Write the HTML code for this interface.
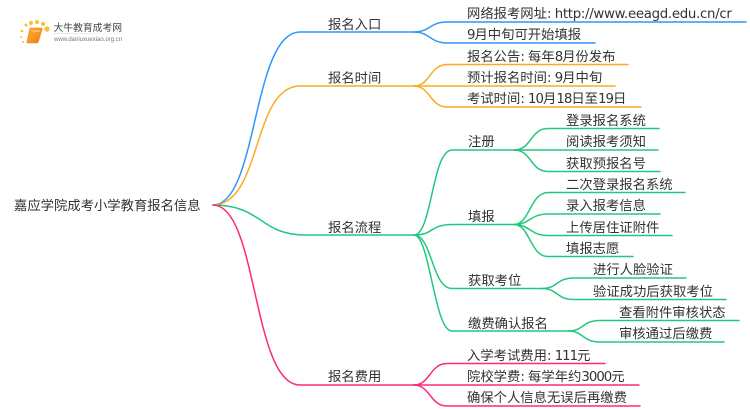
<!DOCTYPE html>
<html><head><meta charset="utf-8"><style>
html,body{margin:0;padding:0;background:#fff}
svg{display:block}
text{font-family:"DejaVu Sans","WenQuanYi Zen Hei","Noto Sans CJK SC",sans-serif;font-size:13.33px;fill:#333}
tspan.d{letter-spacing:-1px}
tspan.c{letter-spacing:-.5px}
tspan.u{letter-spacing:-.3px}
path{fill:none;stroke-width:1.5;stroke-linecap:round}
.b path{stroke:#2f96fb}.o path{stroke:#f9ac23}.g path{stroke:#25c77f}.p path{stroke:#fb2a7f}
</style></head><body>
<svg width="750" height="410" viewBox="0 0 750 410" xmlns="http://www.w3.org/2000/svg">
<defs><linearGradient id="fade" x1="0" x2="1" y1="0" y2="0"><stop offset="0" stop-color="#ddd"/><stop offset="1" stop-color="#fff"/></linearGradient>
<linearGradient id="bk" x1="0" x2="1" y1="0" y2="1"><stop offset="0" stop-color="#fbb03b"/><stop offset="1" stop-color="#ee7d11"/></linearGradient></defs>
<g class="b"><path d="M213 205C258 205 252 32 300 32H414"/><path d="M414 32C430 32 430 22 447 22H746"/><path d="M414 32C430 32 430 43 447 43H595"/></g>
<g class="o"><path d="M213 205C262 205 252 86 300 86H414"/><path d="M414 86C430 86 430 64.500 447 64.500H628"/><path d="M414 86H615"/><path d="M414 86C430 86 430 107 447 107H641"/></g>
<g class="g"><path d="M213 205C262 205 260 235 305 235H414"/>
<path d="M414 235C432 235 432 150 452 150H514"/><path d="M414 235C434 235 430 224.500 452 224.500H514"/><path d="M414 235C432 235 432 288.500 452 288.500H542"/><path d="M414 235C430 235 434 331 452 331H568"/>
<path d="M514 150C532 150 530 128.500 548 128.500H659"/><path d="M514 150H658"/><path d="M514 150C532 150 530 171.500 548 171.500H660"/>
<path d="M514 224.500C530 224.500 530 192.500 548 192.500H685"/><path d="M514 224.500C530 224.500 530 214 548 214H660"/><path d="M514 224.500C530 224.500 530 235.500 548 235.500H672"/><path d="M514 224.500C530 224.500 530 256.500 548 256.500H633"/>
<path d="M542 288.500C558 288.500 556 278 574 278H686"/><path d="M542 288.500C558 288.500 556 299.500 574 299.500H726"/>
<path d="M568 331C584 331 582 320.500 600 320.500H739"/><path d="M568 331C584 331 582 342 600 342H724"/></g>
<g class="p"><path d="M213 205C258 205 252 385 300 385H414"/><path d="M414 385C430 385 430 363.500 447 363.500H605"/><path d="M414 385H639"/><path d="M414 385C430 385 430 406 447 406H640"/></g>
<text x="14" y="210">嘉应学院成考小学教育报名信息</text>
<text x="328" y="29">报名入口</text><text x="328" y="82.500">报名时间</text><text x="328" y="232">报名流程</text><text x="328" y="381">报名费用</text>
<text x="467" y="18">网络报考网址<tspan class="c">: </tspan><tspan class="u">http://www.eeagd.edu.cn/cr</tspan></text>
<text x="467" y="39"><tspan class="d">9</tspan>月中旬可开始填报</text>
<text x="467" y="61">报名公告<tspan class="c">: </tspan>每年<tspan class="d">8</tspan>月份发布</text>
<text x="467" y="82">预计报名时间<tspan class="c">: </tspan><tspan class="d">9</tspan>月中旬</text>
<text x="467" y="103">考试时间<tspan class="c">: </tspan><tspan class="d">10</tspan>月<tspan class="d">18</tspan>日至<tspan class="d">19</tspan>日</text>
<text x="468" y="146">注册</text><text x="468" y="221">填报</text><text x="468" y="285">获取考位</text><text x="468" y="328">缴费确认报名</text>
<text x="566" y="125">登录报名系统</text><text x="566" y="146">阅读报考须知</text><text x="566" y="168">获取预报名号</text>
<text x="566" y="189">二次登录报名系统</text><text x="566" y="210">录入报考信息</text><text x="566" y="232">上传居住证附件</text><text x="566" y="253">填报志愿</text>
<text x="593" y="274">进行人脸验证</text><text x="593" y="296">验证成功后获取考位</text>
<text x="619" y="317">查看附件审核状态</text><text x="619" y="338">审核通过后缴费</text>
<text x="467" y="360">入学考试费用<tspan class="c">: </tspan><tspan class="d">111</tspan>元</text><text x="467" y="381">院校学费<tspan class="c">: </tspan>每学年约<tspan class="d">3000</tspan>元</text><text x="467" y="402">确保个人信息无误后再缴费</text>
<g style="filter:blur(.35px)">
<path d="M30.500 28H41.500Q42.500 28 42 29.500L38.500 41.500Q38 43 36.500 43H28Q26.500 43 27 41.500L29.500 29.500Q29.800 28 30.500 28Z" style="fill:url(#bk);stroke:#ee8a1a;stroke-width:.6"/>
<path d="M33 31H40" style="stroke:#ffdc8e;stroke-width:1"/>
<g style="fill:#fbc02d"><circle cx="47" cy="29" r="2.600"/><circle cx="43" cy="24" r="2"/><circle cx="37" cy="22" r="2"/><circle cx="31" cy="23" r="2"/><circle cx="26" cy="25" r="1.500"/><circle cx="22" cy="31" r="1.300"/><circle cx="21" cy="37" r="1"/><circle cx="23" cy="42" r="1"/></g>
<text x="53.500" y="31" style="font-size:9.800px;fill:#444;font-family:'Noto Sans CJK SC',sans-serif">大牛教育成考网</text>
<rect x="54" y="33" width="80" height="0.800" style="fill:url(#fade)"/>
<text x="54" y="41" style="font-size:6px;fill:#777;font-family:'Liberation Sans',sans-serif">www.daniuxuexiao.org.cn</text>
</g>
</svg>
</body></html>
